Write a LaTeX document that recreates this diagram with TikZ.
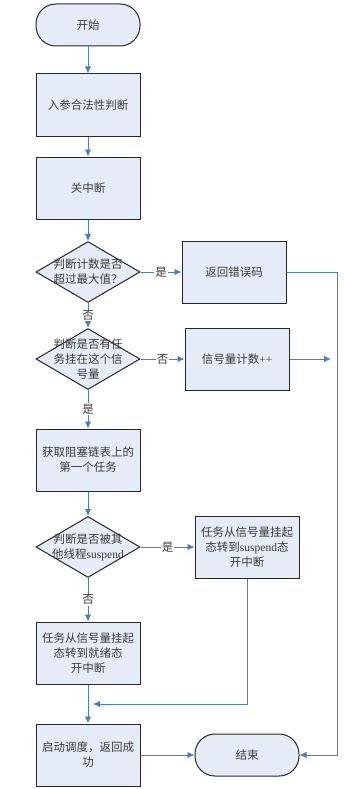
\documentclass[tikz,border=0pt]{standalone}
\usepackage{fontspec}
\setmainfont{Liberation Serif}
\newfontfamily\cjk{Noto Sans CJK SC}
\definecolor{boxfill}{HTML}{E6ECF7}
\definecolor{flowcol}{HTML}{4A7EC4}
\definecolor{txtcol}{HTML}{3A3A3A}
\usetikzlibrary{shapes.geometric,calc,arrows.meta}
\newcommand{\lat}[1]{{\rmfamily #1}}

\tikzset{
  flowbox/.style={rectangle,draw=black!85,line width=1pt,fill=boxfill,
    minimum width=104pt,minimum height=62pt,inner sep=2pt,align=center},
  termbox/.style={rectangle,rounded corners=20pt,draw=black!85,line width=1pt,fill=boxfill,
    minimum width=104pt,minimum height=42pt,align=center},
  decide/.style={diamond,draw=black!85,line width=1pt,fill=boxfill,
    minimum width=104pt,minimum height=61pt,inner sep=0pt},
  dtext/.style={align=center,inner sep=0pt},
  flow/.style={->,draw=flowcol,thick},
  yn/.style={fill=white,inner sep=1pt,text=txtcol},
}

\begin{document}
\begin{tikzpicture}[x=1pt,y=-1pt,>={Latex[length=7pt,width=6.5pt]},
    every node/.append style={font=\cjk\fontsize{11.5}{15}\selectfont,text=txtcol}]
  \useasboundingbox (0,0) rectangle (343,789);
  % ---------- main column -----------------------------------------
  \node[termbox] (start) at (88,25) {开始};
  \node[flowbox] (chk) at (88,105) {入参合法性判断};
  \node[flowbox] (irqoff) at (88,188) {关中断};
  \node[decide] (dmax) at (88,272) {};
  \node[dtext] (dmaxtxt) at (dmax) {判断计数是否\\超过最大值？};
  \node[decide] (dwait) at (88,359) {};
  \node[dtext] (dwaittxt) at (dwait) {判断是否有任\\务挂在这个信\\号量};
  \node[flowbox] (gettask) at (88,460) {获取阻塞链表上的\\第一个任务};
  \node[decide] (dsusp) at (88,547) {};
  \node[dtext] (dsusptxt) at (dsusp) {判断是否被其\\他线程\lat{suspend}};
  \node[flowbox] (toready) at (88,653) {任务从信号量挂起\\态转到就绪态\\开中断};
  \node[flowbox] (sched) at (88,755) {启动调度，返回成\\功};
  % ---------- right column ----------------------------------------
  \node[flowbox] (reterr) at (234,272) {返回错误码};
  \node[flowbox] (cntinc) at (237,359) {信号量计数\lat{++}};
  \node[flowbox] (tosusp) at (247,547) {任务从信号量挂起\\态转到\lat{suspend}态\\开中断};
  \node[termbox] (fin) at (247,755) {结束};
  \coordinate (rail) at (337,0);
  \coordinate (join) at ($(toready.south)!0.5!(sched.north)$);
  % ---------- connectors ------------------------------------------
  \draw[flow] (start) -- (chk);
  \draw[flow] (chk) -- (irqoff);
  \draw[flow] (irqoff) -- (dmax);
  \draw[flow] (dmax) -- node[yn]{否} (dwait);
  \draw[flow] (dmax) -- node[yn]{是} (reterr);
  \draw[flow] (dwait) -- node[yn]{否} (cntinc);
  \draw[flow] (dwait) -- node[yn]{是} (gettask);
  \draw[flow] (gettask) -- (dsusp);
  \draw[flow] (dsusp) -- node[yn]{是} (tosusp);
  \draw[flow] (dsusp) -- node[yn]{否} (toready);
  \draw[flow] (toready) -- (sched);
  \draw[flow] (sched) -- (fin);
  \draw[flow,shorten >=5pt] (tosusp.south) |- (join);
  \draw[flow,shorten >=6pt] (cntinc.east) -- (cntinc.east -| rail);
  \draw[flow] (reterr.east) -- (reterr.east -| rail) |- (fin.east);
\end{tikzpicture}
\end{document}
